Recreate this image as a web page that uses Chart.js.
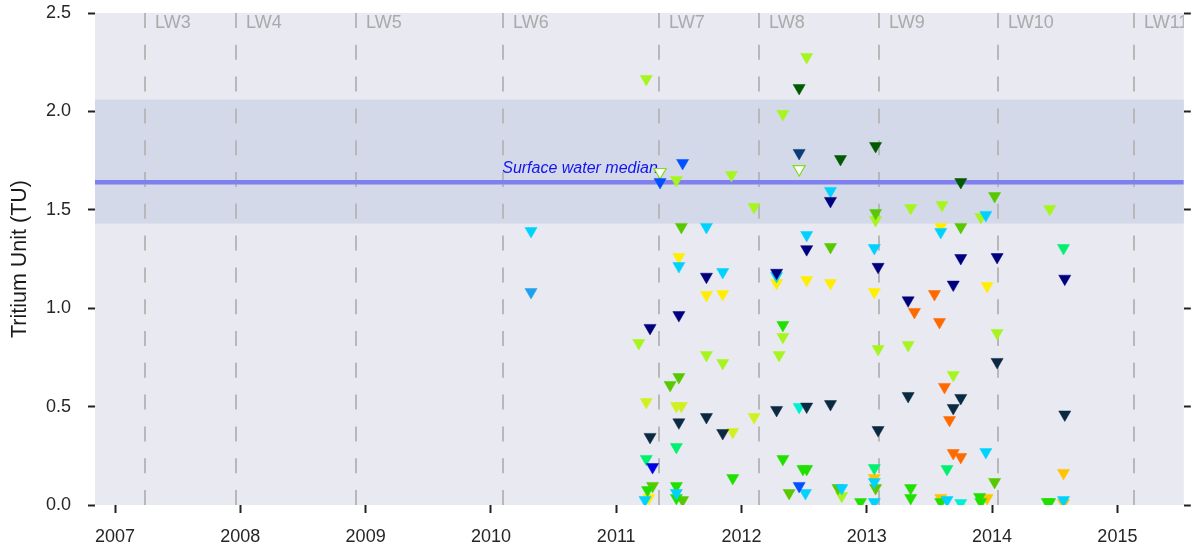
<!DOCTYPE html>
<html>
<head>
<meta charset="utf-8">
<script src="https://cdn.jsdelivr.net/npm/chart.js@4.4.1/dist/chart.umd.min.js"></script>
<style>
html, body { margin: 0; padding: 0; background: #fff; }
#chart { display: block; }
</style>
</head>
<body>
<canvas id="chart" width="1192" height="546"></canvas>
<script>
// axis ranges and ticks
const xRange = [2006.84, 2015.53];
const yRange = [0, 2.5];
const xTicks = [2007, 2008, 2009, 2010, 2011, 2012, 2013, 2014, 2015];
const yTicks = [0, 0.5, 1.0, 1.5, 2.0, 2.5];

// longwall panels (start dates)
const lwNames = ['LW3', 'LW4', 'LW5', 'LW6', 'LW7', 'LW8', 'LW9', 'LW10', 'LW11'];
const lwDates = [2007.24, 2007.965, 2008.92, 2010.10, 2011.34, 2012.14, 2013.10, 2014.05, 2015.13];

// surface water reference
const surfaceBand = [1.43, 2.06];
const surfaceMedian = 1.64;
const medianLabel = 'Surface water median';
const medianLabelX = 2010.09;

// samples per bore: [decimal year, tritium TU]
const navyBore = [[2011.27, 0.90], [2011.50, 0.965], [2011.72, 1.16], [2012.28, 1.18], [2012.52, 1.30], [2012.71, 1.545],
    [2013.09, 1.21], [2013.33, 1.04], [2013.69, 1.12], [2013.75, 1.255], [2014.04, 1.26], [2014.58, 1.15]];
const slateBore = [[2011.27, 0.346], [2011.50, 0.42], [2011.72, 0.447], [2011.85, 0.366], [2012.28, 0.483], [2012.52, 0.50],
    [2012.71, 0.513], [2013.09, 0.381], [2013.33, 0.554], [2013.69, 0.493], [2013.75, 0.544], [2014.04, 0.727], [2014.58, 0.46]];
const steelBore = [[2012.46, 1.789]];
const blueBore = [[2011.29, 0.193]];
const azureBore = [[2011.35, 1.641], [2011.53, 1.738], [2012.46, 0.097]];
const cyanBore = [[2010.32, 1.392], [2011.72, 1.413], [2011.50, 1.214], [2011.85, 1.184], [2012.28, 1.164], [2012.52, 1.372],
    [2012.71, 1.596], [2013.06, 1.306], [2013.59, 1.387], [2013.95, 1.474], [2011.23, 0.025], [2011.48, 0.061],
    [2012.51, 0.061], [2012.80, 0.086], [2013.06, 0.117], [2013.06, 0.015], [2013.64, 0.025], [2013.95, 0.269], [2014.57, 0.025]];
const skyBore = [[2010.32, 1.082]];
const tealBore = [[2012.46, 0.498], [2013.75, 0.01]];
const springBore = [[2011.48, 0.295], [2011.24, 0.234], [2013.06, 0.188], [2013.64, 0.183], [2014.57, 1.306]];
const greenBore = [[2011.25, 0.076], [2011.48, 0.097], [2011.48, 0.036], [2011.93, 0.137], [2012.33, 0.234], [2012.49, 0.183],
    [2012.52, 0.183], [2012.95, 0.015], [2013.35, 0.086], [2013.35, 0.036], [2013.59, 0.015], [2013.91, 0.015],
    [2013.90, 0.041], [2014.44, 0.015], [2014.46, 0.015], [2012.33, 0.915]];
const limeBore = [[2011.52, 1.413], [2012.71, 1.311], [2013.75, 1.413], [2014.02, 1.570], [2013.07, 1.484], [2011.29, 0.097],
    [2011.53, 0.025], [2012.38, 0.061], [2012.77, 0.086], [2013.07, 0.086], [2014.02, 0.117], [2011.43, 0.610], [2011.50, 0.650]];
const yellowGreenBore = [[2011.24, 2.165], [2011.48, 1.651], [2012.52, 2.276], [2012.33, 1.987], [2011.92, 1.677], [2012.10, 1.514],
    [2013.07, 1.448], [2013.35, 1.509], [2013.60, 1.524], [2013.91, 1.463], [2014.46, 1.504], [2012.33, 0.854], [2014.04, 0.874],
    [2013.09, 0.793], [2013.33, 0.813], [2013.69, 0.661], [2011.18, 0.823], [2011.72, 0.762], [2011.85, 0.722], [2012.30, 0.762],
    [2012.80, 0.046]];
const chartreuseBore = [[2011.24, 0.523], [2011.48, 0.503], [2011.52, 0.503], [2011.93, 0.371], [2012.10, 0.447]];
const yellowBore = [[2011.50, 1.26], [2011.72, 1.067], [2011.85, 1.072], [2012.28, 1.128], [2012.52, 1.143], [2012.71, 1.128],
    [2013.06, 1.082], [2013.59, 1.413], [2013.96, 1.113], [2011.26, 0.036]];
const goldBore = [[2013.06, 0.137], [2013.59, 0.036], [2013.96, 0.036], [2014.57, 0.163], [2014.57, 0.01]];
const orangeBore = [[2013.38, 0.981], [2013.54, 1.072], [2013.58, 0.930], [2013.62, 0.600], [2013.66, 0.432], [2013.69, 0.264], [2013.75, 0.244]];
const darkGreenBore = [[2012.46, 2.119], [2013.07, 1.824], [2012.79, 1.758], [2013.75, 1.641]];
const whiteBore = [[2011.35, 1.692], [2012.46, 1.707]];

// marker colours per bore (fill, edge)
const bores = [
    [navyBore, '#00007f', '#00007f'],
    [slateBore, '#0b2a42', '#0b2a42'],
    [steelBore, '#0a3d78', '#0a3d78'],
    [blueBore, '#0000e6', '#0000e6'],
    [azureBore, '#0050ff', '#0050ff'],
    [cyanBore, '#00d2ff', '#00d2ff'],
    [skyBore, '#1ea0ee', '#1ea0ee'],
    [tealBore, '#00f0d0', '#00f0d0'],
    [springBore, '#00f070', '#00f070'],
    [greenBore, '#20e000', '#20e000'],
    [limeBore, '#58c800', '#58c800'],
    [yellowGreenBore, '#a6f520', '#a6f520'],
    [chartreuseBore, '#d2f020', '#d2f020'],
    [yellowBore, '#ffee00', '#ffee00'],
    [goldBore, '#ffc400', '#ffc400'],
    [orangeBore, '#ff6a00', '#ff6a00'],
    [darkGreenBore, '#005a00', '#005a00'],
    [whiteBore, '#ffffff', '#7fdc20']
];

const fontFamily = "'Liberation Sans', Arial, sans-serif";

let datasets = bores.map(function (b) {
    return {
        data: b[0].map(p => ({x: p[0], y: p[1]})),
        backgroundColor: b[1],
        borderColor: b[2],
        borderWidth: b[1] === '#ffffff' ? 1.2 : 0.5,
        pointStyle: 'triangle',
        rotation: 180,
        pointRadius: 7,
        showLine: false
    };
});

const backdrop = {
    id: 'backdrop',
    beforeDraw(chart) {
        let ctx = chart.ctx;
        let a = chart.chartArea;
        let x = chart.scales.x;
        let y = chart.scales.y;
        ctx.save();
        ctx.fillStyle = '#e8e9f1';
        ctx.fillRect(a.left, a.top, a.right - a.left, a.bottom - a.top);

        let bandTop = y.getPixelForValue(surfaceBand[1]);
        let bandBottom = y.getPixelForValue(surfaceBand[0]);
        ctx.fillStyle = '#d3d9e8';
        ctx.fillRect(a.left, bandTop, a.right - a.left, bandBottom - bandTop);

        ctx.beginPath();
        ctx.rect(a.left, a.top, a.right - a.left, a.bottom - a.top);
        ctx.clip();

        ctx.strokeStyle = '#b8b8b8';
        ctx.lineWidth = 2;
        ctx.setLineDash([15, 16.8]);
        ctx.font = '18px ' + fontFamily;
        ctx.fillStyle = '#aaaaaa';
        ctx.textAlign = 'left';
        ctx.textBaseline = 'alphabetic';
        lwDates.forEach(function (d, i) {
            let px = Math.round(x.getPixelForValue(d));
            ctx.beginPath();
            ctx.moveTo(px, a.top);
            ctx.lineTo(px, a.bottom);
            ctx.stroke();
            ctx.fillText(lwNames[i], px + 10, a.top + 15);
        });
        ctx.setLineDash([]);

        let my = y.getPixelForValue(surfaceMedian);
        ctx.strokeStyle = '#7f7fef';
        ctx.lineWidth = 4.5;
        ctx.beginPath();
        ctx.moveTo(a.left, my);
        ctx.lineTo(a.right, my);
        ctx.stroke();

        ctx.font = 'italic 16px ' + fontFamily;
        ctx.fillStyle = '#1414ee';
        ctx.fillText(medianLabel, x.getPixelForValue(medianLabelX), my - 9);
        ctx.restore();
    }
};

let tickFont = {size: 18, family: fontFamily};

function fixVertical(width) {
    return function (scale) {
        scale.width = width;
        scale.paddingTop = 0;
        scale.paddingBottom = 0;
    };
}

let chart = new Chart(document.getElementById('chart').getContext('2d'), {
    type: 'scatter',
    data: {datasets: datasets},
    options: {
        responsive: false,
        animation: false,
        events: [],
        layout: {padding: {top: 13, left: 0, right: 0, bottom: 0}},
        plugins: {legend: {display: false}, tooltip: {enabled: false}},
        scales: {
            x: {
                type: 'linear',
                min: xRange[0],
                max: xRange[1],
                afterBuildTicks: scale => { scale.ticks = xTicks.map(v => ({value: v})); },
                afterFit: scale => { scale.height = 41; scale.paddingLeft = 0; scale.paddingRight = 0; },
                ticks: {font: tickFont, color: '#262626', padding: 13, maxRotation: 0, autoSkip: false,
                    callback: v => String(v)},
                grid: {display: true, drawOnChartArea: false, drawTicks: true, tickLength: 8, tickColor: '#222', tickWidth: 2},
                border: {display: false}
            },
            y: {
                type: 'linear',
                position: 'left',
                min: yRange[0],
                max: yRange[1],
                afterBuildTicks: scale => { scale.ticks = yTicks.map(v => ({value: v})); },
                afterFit: fixVertical(95),
                ticks: {font: tickFont, color: '#262626', padding: 17, callback: v => v.toFixed(1)},
                grid: {display: true, drawOnChartArea: false, drawTicks: true, tickLength: 7, tickColor: '#222', tickWidth: 2},
                border: {display: false},
                title: {display: true, text: 'Tritium Unit (TU)', font: {size: 21.5, family: fontFamily}, color: '#1a1a1a',
                    padding: {top: 7, bottom: 0}}
            },
            y2: {
                type: 'linear',
                axis: 'y',
                position: 'right',
                min: yRange[0],
                max: yRange[1],
                afterBuildTicks: scale => { scale.ticks = yTicks.map(v => ({value: v})); },
                afterFit: fixVertical(7),
                ticks: {font: tickFont, padding: 0, callback: () => ''},
                grid: {display: true, drawOnChartArea: false, drawTicks: true, tickLength: 7, tickColor: '#222', tickWidth: 2},
                border: {display: false}
            }
        }
    },
    plugins: [backdrop]
});
</script>
</body>
</html>
